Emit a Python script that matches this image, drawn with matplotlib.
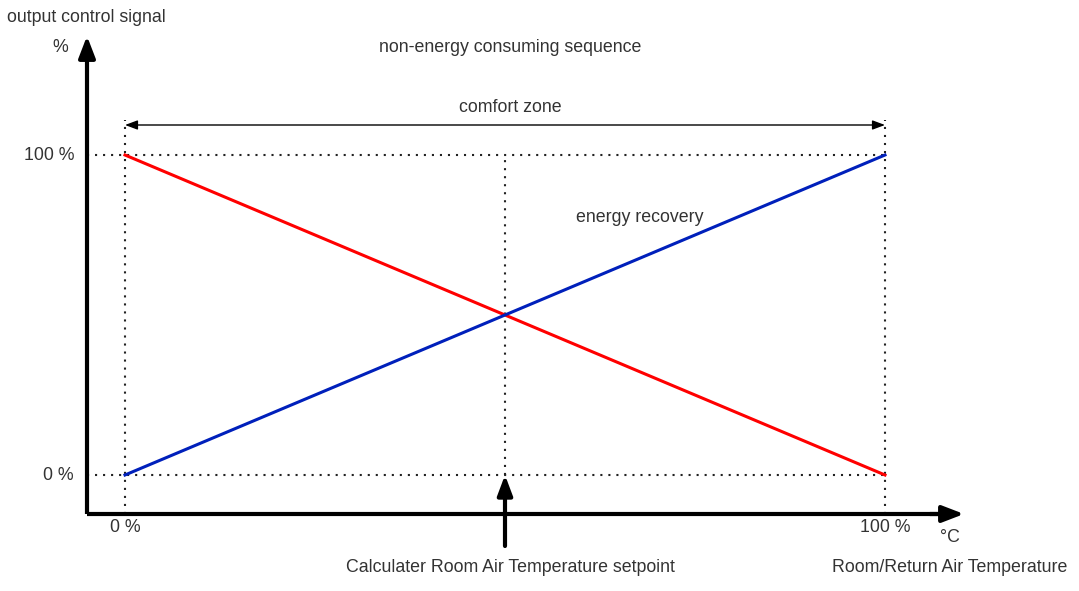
import matplotlib
matplotlib.use("Agg")
import matplotlib.pyplot as plt

# ---- data ----
temp_pct = [0, 100]            # room/return air temperature (% of comfort zone)
heating_signal = [100, 0]      # red line
recovery_signal = [0, 100]     # blue line (energy recovery)
setpoint_pct = 50
y_tick_values = [0, 100]
y_tick_labels = ["0 %", "100 %"]
x_tick_values = [0, 100]
x_tick_labels = ["0 %", "100 %"]

# ---- layout ----
W, H = 1079, 591
X0, SX = 125, 7.6      # pixel of x=0, pixels per unit
Y0, SY = 475, 3.2      # pixel of y=0, pixels per unit

def px(p):
    return (p - X0) / SX

def py(p):
    return (Y0 - p) / SY

plt.rcParams['font.family'] = ['Liberation Sans', 'DejaVu Sans']
fig = plt.figure(figsize=(W / 100, H / 100), dpi=100)
ax = fig.add_axes([0, 0, 1, 1])
ax.set_xlim(px(0), px(W))
ax.set_ylim(py(H), py(0))
ax.axis('off')

fs = 12.8
tc = '#333333'
dot = dict(color='#222222', lw=1.5, linestyle=(0, (1, 2.85)), dash_capstyle='butt')

ax_x = px(87)
ax_y = py(514)

# dotted guides
for xv in x_tick_values:
    ax.plot([xv, xv], [ax_y, py(120)], **dot)
for yv in y_tick_values:
    ax.plot([ax_x, 100], [yv, yv], **dot)
ax.plot([setpoint_pct, setpoint_pct], [0, 100], **dot)

head = '-|>,head_length=1.3,head_width=0.5'
# axes arrows
ax.plot([ax_x, ax_x], [ax_y, py(50)], color='black', lw=3, solid_capstyle='butt')
ax.annotate('', xy=(ax_x, py(36)), xytext=(ax_x, py(60)),
            arrowprops=dict(arrowstyle=head, color='black', lw=3, shrinkA=0, shrinkB=0))
ax.plot([ax_x, px(945)], [ax_y, ax_y], color='black', lw=3, solid_capstyle='butt')
ax.annotate('', xy=(px(964), ax_y), xytext=(px(930), ax_y),
            arrowprops=dict(arrowstyle=head, color='black', lw=3, shrinkA=0, shrinkB=0))

# lines
ax.plot(temp_pct, heating_signal, color='#ff0000', lw=2.2)
ax.plot(temp_pct, recovery_signal, color='#0020bb', lw=2.2)

# comfort zone arrow
ax.annotate('', xy=(x_tick_values[0], py(125)), xytext=(x_tick_values[1], py(125)),
            arrowprops=dict(arrowstyle='<|-|>,head_length=0.75,head_width=0.28', color='black', lw=1,
                            shrinkA=0, shrinkB=0))

# setpoint arrow
ax.annotate('', xy=(setpoint_pct, 0), xytext=(setpoint_pct, py(546)),
            arrowprops=dict(arrowstyle='-|>,head_length=1.2,head_width=0.45', color='black', lw=3,
                            shrinkA=0, shrinkB=0))

# texts
ax.text(px(7), py(17), "output control signal", fontsize=fs, color=tc, ha='left', va='center')
ax.text(px(60), py(47), "%", fontsize=fs, color=tc, ha='center', va='center')
for yv, lab in zip(y_tick_values, y_tick_labels):
    ax.text(px(74), yv, lab, fontsize=fs, color=tc, ha='right', va='center')
for xv, lab in zip(x_tick_values, x_tick_labels):
    ax.text(xv, py(527), lab, fontsize=fs, color=tc, ha='center', va='center')
ax.text(px(950), py(538), "°C", fontsize=fs, color=tc, ha='center', va='center')
ax.text(px(510), py(568), "Calculater Room Air Temperature setpoint", fontsize=fs, color=tc,
        ha='center', va='center')
ax.text(px(950), py(567), "Room/Return Air Temperature", fontsize=fs, color=tc, ha='center', va='center')
ax.text(px(510), py(48), "non-energy consuming sequence", fontsize=fs, color=tc, ha='center', va='center')
ax.text(px(510), py(107), "comfort zone", fontsize=fs, color=tc, ha='center', va='center')
ax.text(px(640), py(217), "energy recovery", fontsize=fs, color=tc, ha='center', va='center')

fig.savefig("out.png", dpi=100)
